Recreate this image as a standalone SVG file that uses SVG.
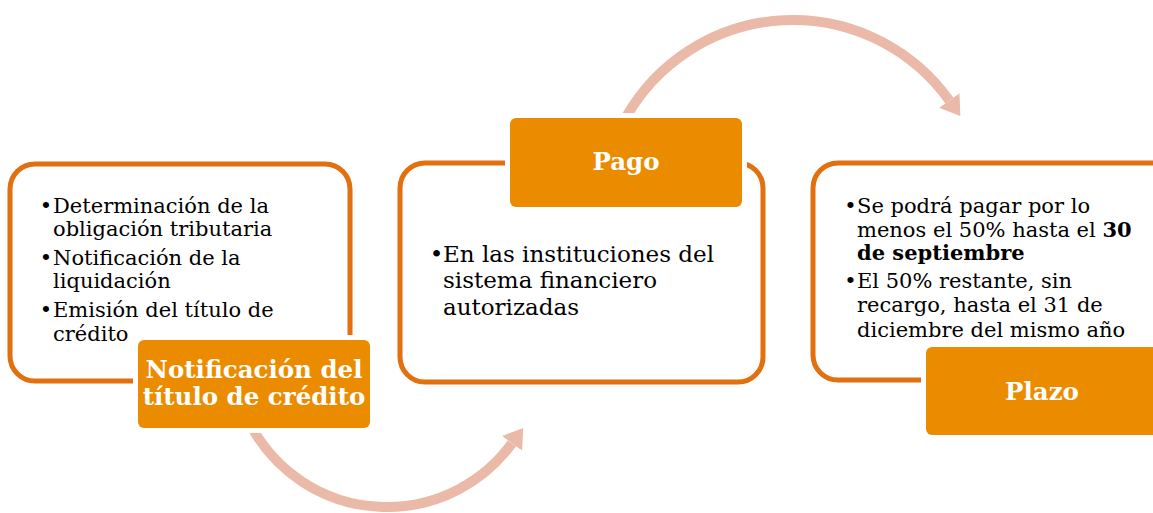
<svg xmlns="http://www.w3.org/2000/svg" width="1153" height="513" viewBox="0 0 1153 513">
<style>
.box{fill:#fff;stroke:#E2700F;stroke-width:5}
.lbl{fill:#EB8C00;stroke:#fff;stroke-width:10;paint-order:stroke}
.arc{fill:none;stroke:#EBB9A8;stroke-width:10}
.t{font-family:"DejaVu Serif","Liberation Serif",serif;font-size:21px;fill:#000}
.t2{font-family:"DejaVu Serif","Liberation Serif",serif;font-size:23px;fill:#000}
.b{font-weight:bold}
.lt{font-family:"DejaVu Serif","Liberation Serif",serif;font-weight:bold;font-size:24.5px;fill:#fff;text-anchor:middle}
.bul{text-anchor:middle}
</style>
<defs>
<marker id="ah" markerUnits="userSpaceOnUse" viewBox="0 -13 20 26" markerWidth="20" markerHeight="26" refX="0" refY="0" orient="auto">
<path d="M0,-12.5 L19,0 L0,12.5 Z" fill="#EBB9A8"/>
</marker>
</defs>
<g id="connectors">
<path class="arc" d="M253.2,429.8 A154.5,154.5 0 0 0 512,443.3" marker-end="url(#ah)"/>
<path class="arc" d="M626.7,116 A192,192 0 0 1 949.3,100.5" marker-end="url(#ah)"/>
</g>
<g id="node-notificacion">
<rect class="box" x="10" y="164" width="340" height="217" rx="25"/>
<text class="t bul" x="46" y="213">•</text>
<text class="t" x="53" y="213">Determinación de la</text>
<text class="t" x="53" y="236">obligación tributaria</text>
<text class="t bul" x="46" y="265">•</text>
<text class="t" x="53" y="265">Notificación de la</text>
<text class="t" x="53" y="288">liquidación</text>
<text class="t bul" x="46" y="317">•</text>
<text class="t" x="53" y="317">Emisión del título de</text>
<text class="t" x="53" y="341">crédito</text>
<rect class="lbl" x="138" y="340" width="232" height="88" rx="6"/>
<text class="lt" x="254" y="378">Notificación del</text>
<text class="lt" x="254" y="405">título de crédito</text>
</g>
<g id="node-pago">
<rect class="box" x="400" y="163" width="363" height="219" rx="25"/>
<text class="t2 bul" x="436.5" y="262">•</text>
<text class="t2" x="443" y="262">En las instituciones del</text>
<text class="t2" x="443" y="288">sistema financiero</text>
<text class="t2" x="443" y="315">autorizadas</text>
<rect class="lbl" x="510" y="118" width="232" height="89" rx="6"/>
<text class="lt" x="626" y="170">Pago</text>
</g>
<g id="node-plazo">
<rect class="box" x="813" y="163" width="363" height="217" rx="25"/>
<text class="t bul" x="850.5" y="213">•</text>
<text class="t" x="857" y="213">Se podrá pagar por lo</text>
<text class="t" x="857" y="237">menos el 50% hasta el <tspan class="b">30</tspan></text>
<text class="t b" x="857" y="260">de septiembre</text>
<text class="t bul" x="850.5" y="288">•</text>
<text class="t" x="857" y="288">El 50% restante, sin</text>
<text class="t" x="857" y="312">recargo, hasta el 31 de</text>
<text class="t" x="857" y="337">diciembre del mismo año</text>
<rect class="lbl" x="926" y="347" width="232" height="88" rx="6"/>
<text class="lt" x="1042" y="400">Plazo</text>
</g>
</svg>
